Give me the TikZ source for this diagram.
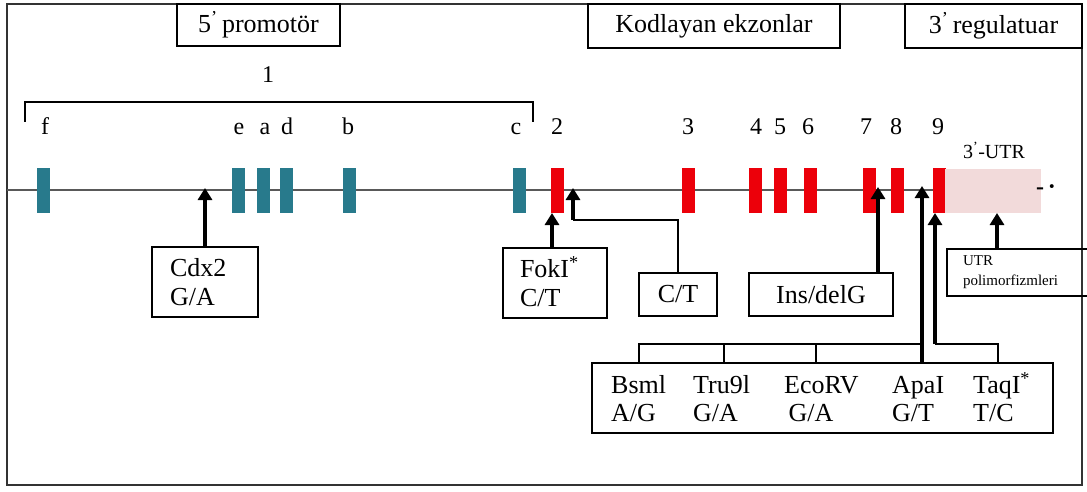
\documentclass[tikz,border=0pt]{standalone}
\usepackage{fontspec}
\setmainfont{Liberation Serif}
\usetikzlibrary{arrows.meta,calc}
\definecolor{exteal}{RGB}{40,122,140}
\definecolor{exred}{RGB}{236,0,10}
\definecolor{utrpink}{RGB}{242,218,218}
\begin{document}
\begin{tikzpicture}[x=1pt,y=-1pt,
  lbl/.style={font=\fontsize{26}{28}\selectfont, inner sep=0pt},
  exlbl/.style={font=\fontsize{24}{28}\selectfont, inner sep=0pt, anchor=base},
  hbox/.style={draw, line width=1.3pt, font=\fontsize{26}{29}\selectfont, inner sep=0pt},
  tbox/.style={draw, line width=1.3pt, font=\fontsize{26}{29}\selectfont, align=left, inner ysep=0pt},
  exon/.style={minimum width=13pt, minimum height=45pt, inner sep=0pt, draw=none},
  arr/.style={line width=3.4pt, -{Triangle[width=14pt,length=12pt]}},
  conn/.style={line width=1.3pt},
  frame/.style={line width=1.2pt, draw=black!80}]
\useasboundingbox (0,0) rectangle (1087,492);
\draw[frame] (7,4) rectangle (1082,485);

% header boxes
\node[hbox, minimum width=163pt, minimum height=42pt] (promo) at (258.5,25) {5\textsuperscript{'}\,promotör};
\node[hbox, minimum width=252pt, minimum height=44pt] (kod) at (714,26) {Kodlayan ekzonlar};
\node[hbox, minimum width=177pt, minimum height=44pt] (reg) at (993.5,26) {3\textsuperscript{'}\,regulatuar};

% exon 1 bracket
\node[exlbl] (one) at (268,83) {1};
\coordinate (brA) at (25,122);
\coordinate (brB) at (533,122);
\draw[conn] (brA) -- (brA |- 0,102) -- (brB |- 0,102) -- (brB);

% baseline
\coordinate (bl0) at (7,190);
\coordinate (bl1) at (945,190);
\draw[line width=1.3pt, black!65] (bl0) -- (bl1);

% exons
\foreach \n/\x in {f/43.5, e/238.5, a/263.5, d/286.5, b/349.5, c/519.5}
  \node[exon, fill=exteal] (ex\n) at (\x,190.5) {};
\foreach \n/\x in {2/557, 3/688.5, 4/755.5, 5/780.5, 6/810, 7/869.5, 8/897, 9/939}
  \node[exon, fill=exred] (ex\n) at (\x,190.5) {};
\node[fill=utrpink, minimum width=96pt, minimum height=44pt, inner sep=0pt] (utrx) at (993,191) {};
\node[font=\fontsize{24}{24}\selectfont\bfseries, inner sep=0pt] (dots) at (1046,190) {-\,·};
\node[font=\fontsize{20}{22}\selectfont, inner sep=0pt, anchor=base] (utrlbl) at (994,159) {3\textsuperscript{'}-UTR};

% exon labels
\foreach \n/\x in {f/45, e/239, a/265, d/287, b/348, c/516, 2/557, 3/688, 4/756, 5/780, 6/808, 7/866, 8/896, 9/938}
  \node[exlbl] (l\n) at (\x,135) {\n};

% SNP boxes
\node[tbox, minimum width=106pt, minimum height=70pt, text width=70pt, inner xsep=18pt] (cdx) at (205,282) {Cdx2\\G/A};
\node[tbox, minimum width=104pt, minimum height=70pt, text width=70pt, inner xsep=17pt] (fok) at (555,283) {FokI\smash{\textsuperscript{*}}\\C/T};
\node[hbox, minimum width=78pt, minimum height=43pt] (ct) at (678,294.5) {C/T};
\node[hbox, minimum width=144pt, minimum height=43pt] (ins) at (821,294.5) {Ins/delG};
\node[draw, line width=1.3pt, font=\fontsize{15}{20}\selectfont, align=left, inner ysep=0pt, inner xsep=16pt, text width=113pt, minimum width=145pt, minimum height=47pt] (utrbox) at (1019.5,272.5) {UTR\\polimorfizmleri};

\node[draw, line width=1.3pt, minimum width=461pt, minimum height=70pt, inner sep=0pt] (snp) at (822.5,398) {};
\node[lbl, anchor=west, align=left] (bsm) at (611,399) {Bsml\\A/G};
\node[lbl, anchor=west, align=left] (tru) at (693,399) {Tru9l\\G/A};
\node[lbl, anchor=west, align=left] (eco) at (784,399) {EcoRV\\\,G/A};
\node[lbl, anchor=west, align=left] (apa) at (892,399) {ApaI\\G/T};
\node[lbl, anchor=west, align=left] (taq) at (973,399) {TaqI\smash{\textsuperscript{*}}\\T/C};

% connectors
\coordinate (base) at (0,188);
\draw[arr] (cdx.north) -- (cdx.north |- base);

\coordinate (tfok) at (552,213);
\draw[arr] (fok.north -| tfok) -- (tfok);

\coordinate (ctbend) at (573,220);
\coordinate (tct) at (573,188);
\draw[conn] (ct.north) |- (ctbend);
\draw[arr] (ctbend) -- (tct);

\coordinate (tins) at (878,187);
\draw[arr] (ins.north -| tins) -- (tins);

\coordinate (tutr) at (997,213);
\draw[arr] (utrbox.north -| tutr) -- (tutr);

\coordinate (tapa) at (922,186);
\draw[arr] (snp.north -| tapa) -- (tapa);

\coordinate (xtaq) at (998,0);
\coordinate (taqbend) at (935,344);
\coordinate (ttaq) at (935,213);
\draw[conn] (snp.north -| xtaq) |- (taqbend);
\draw[arr] (taqbend) -- (ttaq);

\coordinate (brl) at (639,344);
\draw[conn] (snp.north -| brl) -- (brl) -- (tapa |- brl);
\foreach \x in {724,816} {
  \coordinate (bt\x) at (\x,344);
  \draw[conn] (bt\x) -- (snp.north -| bt\x);
}
\end{tikzpicture}
\end{document}
